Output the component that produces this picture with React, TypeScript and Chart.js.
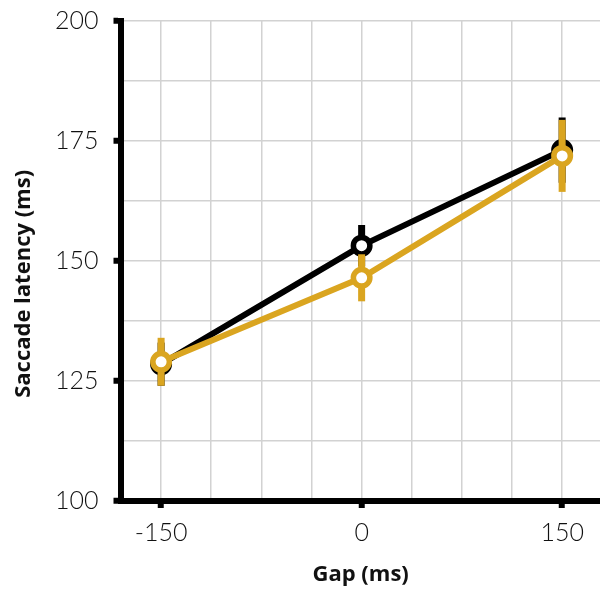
import React, { useEffect, useRef } from 'react';
import { Chart, registerables } from 'chart.js';

Chart.register(...registerables);

const gapValues = [-150, 0, 150];
const latencyBlack = [128.5, 153.2, 173.1];
const errorBlack = [4.5, 4.3, 6.8];
const latencyGold = [129.0, 146.5, 171.9];
const errorGold = [5.0, 4.9, 7.5];

const xGridValues = [-150, -112.5, -75, -37.5, 0, 37.5, 75, 112.5, 150];
const xTickLabels = [-150, 0, 150];
const yGridValues = [100, 112.5, 125, 137.5, 150, 162.5, 175, 187.5, 200];
const yTickLabels = [100, 125, 150, 175, 200];

const xTitle = 'Gap (ms)';
const yTitle = 'Saccade latency (ms)';

const BLACK = '#000000';
const GOLD = '#DAA520';
const errorSets = [errorBlack, errorGold];

const errorBarPlugin = {
  id: 'errorBars',
  beforeDatasetDraw(chart: any, args: any) {
    const errs = errorSets[args.index];
    if (!errs) return;
    const ds = chart.data.datasets[args.index];
    const meta = args.meta;
    const ctx = chart.ctx;
    const y = chart.scales.y;
    ctx.save();
    ctx.strokeStyle = ds.borderColor;
    ctx.lineWidth = 7;
    ctx.lineCap = 'butt';
    meta.data.forEach((pt: any, i: number) => {
      const v = ds.data[i].y;
      ctx.beginPath();
      ctx.moveTo(pt.x, y.getPixelForValue(v + errs[i]));
      ctx.lineTo(pt.x, y.getPixelForValue(v - errs[i]));
      ctx.stroke();
    });
    ctx.restore();
  },
};

export default function App() {
  const ref = useRef<HTMLCanvasElement | null>(null);

  useEffect(() => {
    document.body.style.margin = '0';
    const canvas = ref.current;
    if (!canvas) return;
    const tickFont = { family: 'Lato', size: 25, weight: 300 };
    const titleFont = { family: 'Open Sans', size: 22, weight: 'bold' as const };

    const chart = new Chart(canvas, {
      type: 'line',
      data: {
        datasets: [
          {
            label: 'Black',
            data: gapValues.map((g, i) => ({ x: g, y: latencyBlack[i] })),
            borderColor: BLACK,
            backgroundColor: BLACK,
            borderWidth: 6,
            pointRadius: 8.25,
            pointBorderWidth: 5.5,
            pointBackgroundColor: '#ffffff',
            pointBorderColor: BLACK,
            order: 1,
          },
          {
            label: 'Gold',
            data: gapValues.map((g, i) => ({ x: g, y: latencyGold[i] })),
            borderColor: GOLD,
            backgroundColor: GOLD,
            borderWidth: 6,
            pointRadius: 8.25,
            pointBorderWidth: 5.5,
            pointBackgroundColor: '#ffffff',
            pointBorderColor: GOLD,
            order: 0,
          },
        ],
      },
      options: {
        animation: false,
        responsive: false,
        maintainAspectRatio: false,
        layout: { padding: { top: 21, left: 0, right: 0, bottom: 0 } },
        plugins: {
          legend: { display: false },
          tooltip: { enabled: false },
        },
        scales: {
          x: {
            type: 'linear',
            min: -180,
            max: 178.5,
            afterBuildTicks: (scale: any) => {
              scale.ticks = xGridValues.map((v) => ({ value: v }));
            },
            afterFit: (scale: any) => {
              scale.height = 91;
              scale.paddingLeft = 0;
              scale.paddingRight = 0;
            },
            ticks: {
              autoSkip: false,
              maxRotation: 0,
              padding: 10,
              color: '#111',
              font: tickFont,
              callback: (v: any) => (xTickLabels.includes(Number(v)) ? String(v) : ''),
            },
            grid: {
              color: '#d2d2d2',
              lineWidth: 1.5,
              tickLength: 7,
              tickWidth: 6,
              tickColor: (c: any) =>
                c.tick && xTickLabels.includes(c.tick.value) ? BLACK : 'rgba(0,0,0,0)',
            },
            border: { display: true, color: BLACK, width: 6 },
            title: {
              display: true,
              text: xTitle,
              color: '#111',
              font: titleFont,
              padding: { top: 0, bottom: 4 },
            },
          },
          y: {
            type: 'linear',
            min: 100,
            max: 200,
            afterBuildTicks: (scale: any) => {
              scale.ticks = yGridValues.map((v) => ({ value: v }));
            },
            afterFit: (scale: any) => {
              scale.width = 121;
              scale.paddingTop = 0;
              scale.paddingBottom = 0;
            },
            ticks: {
              autoSkip: false,
              padding: 15,
              color: '#111',
              font: tickFont,
              callback: (v: any) => (yTickLabels.includes(Number(v)) ? String(v) : ''),
            },
            grid: {
              color: '#d2d2d2',
              lineWidth: 1.5,
              tickLength: 7.5,
              tickWidth: 6,
              tickColor: (c: any) =>
                c.tick && yTickLabels.includes(c.tick.value) ? BLACK : 'rgba(0,0,0,0)',
            },
            border: { display: true, color: BLACK, width: 6 },
            title: {
              display: true,
              text: yTitle + '        ',
              color: '#111',
              font: titleFont,
              padding: { top: 11, bottom: 0 },
            },
          },
        },
      },
      plugins: [errorBarPlugin],
    } as any);

    return () => chart.destroy();
  }, []);

  return (
    <div style={{ width: 600, height: 592, overflow: 'hidden', position: 'relative' }}>
      <canvas ref={ref} width={614} height={592} style={{ display: 'block' }} />
    </div>
  );
}
